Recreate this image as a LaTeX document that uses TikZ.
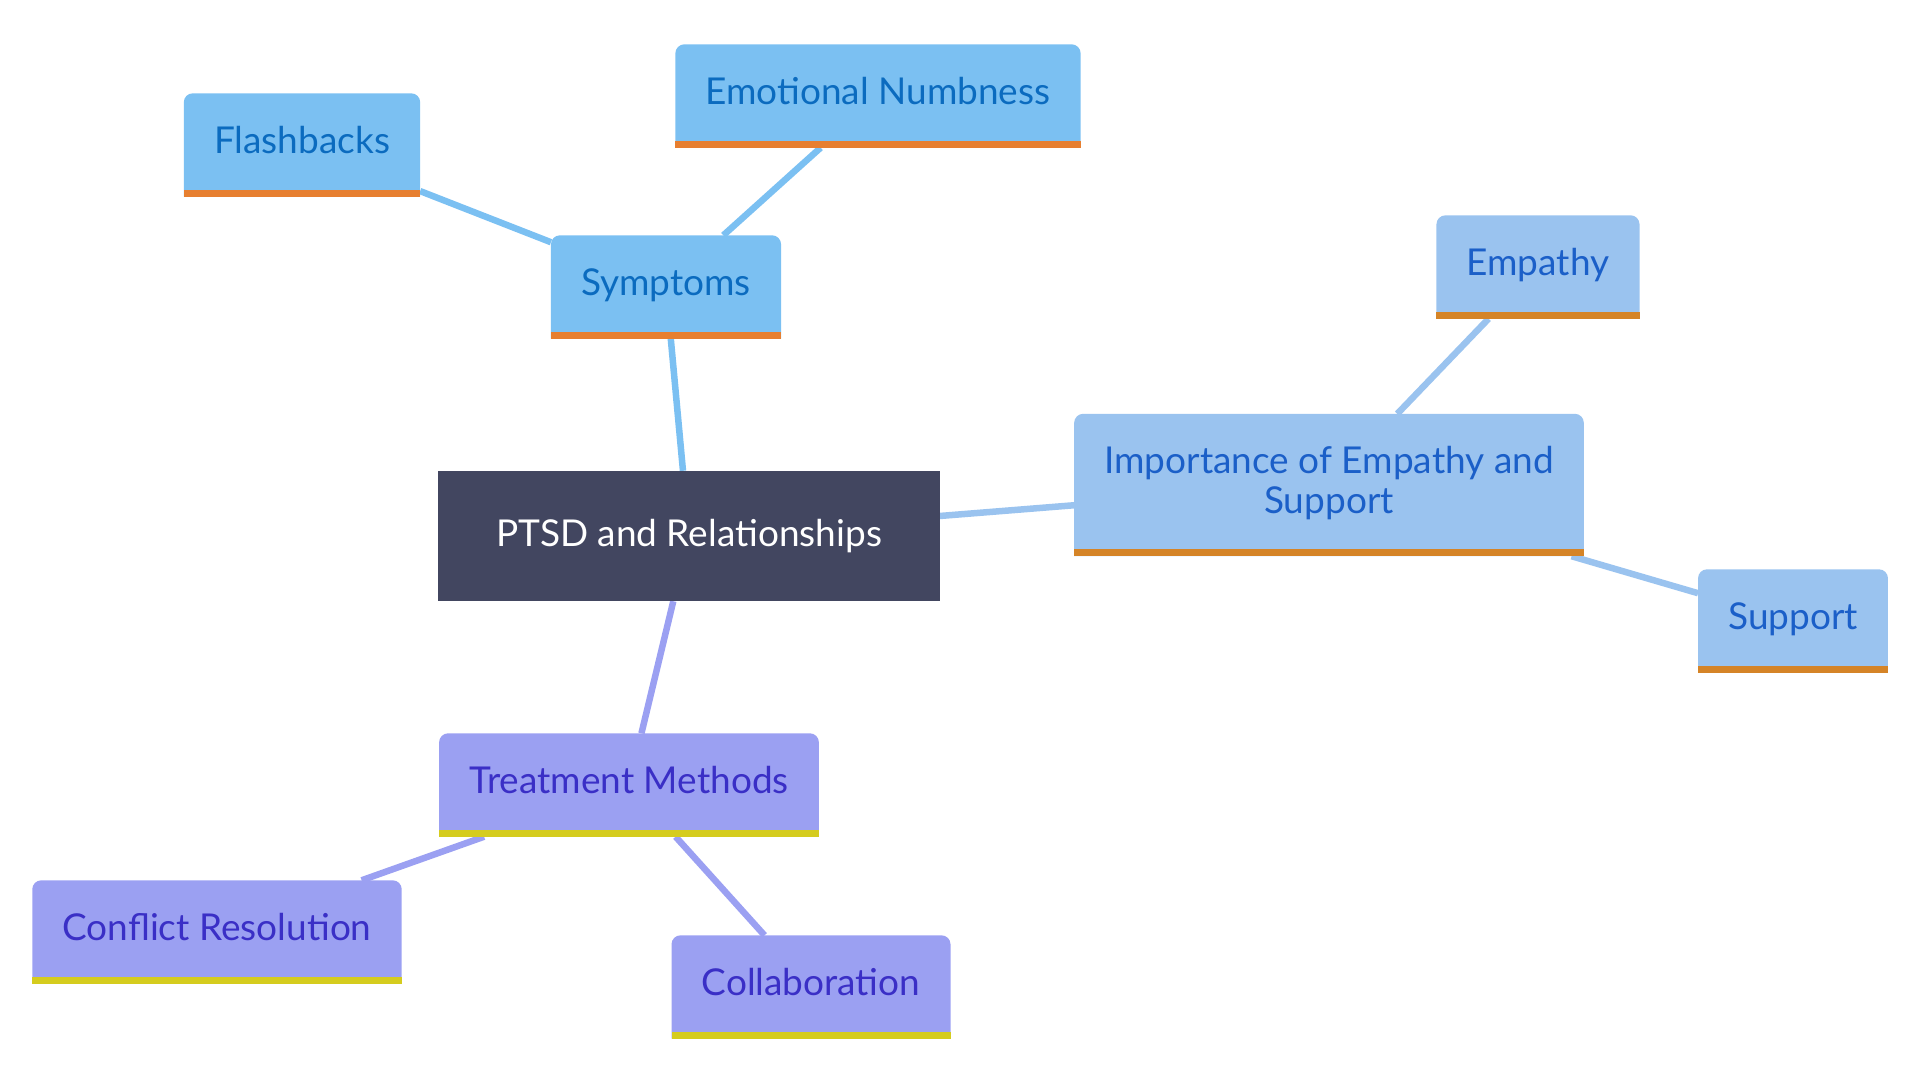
\documentclass[tikz,border=0pt]{standalone}
\usepackage{fontspec}
\setmainfont{Lato}
\usetikzlibrary{backgrounds}
\definecolor{rootfill}{HTML}{424660}
\definecolor{symfill}{HTML}{7BC0F2}
\definecolor{symtext}{HTML}{0B6BBF}
\definecolor{symbar}{HTML}{E77F30}
\definecolor{empfill}{HTML}{9AC3EF}
\definecolor{emptext}{HTML}{1B5FC8}
\definecolor{empbar}{HTML}{D58427}
\definecolor{trtfill}{HTML}{9BA0F2}
\definecolor{trttext}{HTML}{3A2FC6}
\definecolor{trtbar}{HTML}{D5CC1E}
\tikzset{
  topic/.style={font=\fontsize{37}{40}\selectfont,inner xsep=30,inner ysep=0,minimum height=103,align=center,text depth=10},
  rootnode/.style={topic,text=white,minimum width=501,minimum height=130,text depth=6},
  symnode/.style={topic,text=symtext},
  empnode/.style={topic,text=emptext},
  trtnode/.style={topic,text=trttext},
  link/.style={line width=6.5}
}
% box with round top and a coloured bar under it
\newcommand{\tabbox}[3]{%
  \fill[#2] (#1.south west) [rounded corners=9] -- (#1.north west) -- (#1.north east) [sharp corners] -- (#1.south east) -- cycle;
  \fill[#3] (#1.south west) rectangle ([yshift=7]#1.south east);
}
\begin{document}
\begin{tikzpicture}[x=1pt,y=-1pt]
    \useasboundingbox (0,0) rectangle (1920,1080);
    \node[rootnode] (PTSD) at (689,536) {PTSD and Relationships};
    \node[symnode] (Symp) at (666,287) {Symptoms};
    \node[symnode] (Flash) at (302,145) {Flashbacks};
    \node[symnode] (Numb) at (878,96) {Emotional Numbness};
    \node[empnode,minimum height=142] (Imp) at (1329,485) {Importance of Empathy and\\Support};
    \node[empnode] (Emp) at (1538,267) {Empathy};
    \node[empnode] (Sup) at (1793,621) {Support};
    \node[trtnode] (Treat) at (629,785) {Treatment Methods};
    \node[trtnode] (Confl) at (217,932) {Conflict Resolution};
    \node[trtnode] (Collab) at (811,987) {Collaboration};
    \begin{scope}[on background layer]
      \draw[link,symfill] (PTSD) -- (Symp) (Symp) -- (Flash) (Symp) -- (Numb);
      \draw[link,empfill] (PTSD) -- (Imp) (Imp) -- (Emp) (Imp) -- (Sup);
      \draw[link,trtfill] (PTSD) -- (Treat) (Treat) -- (Confl) (Treat) -- (Collab);
      \fill[rootfill] (PTSD.south west) rectangle (PTSD.north east);
      \foreach \n in {Symp,Flash,Numb} {\tabbox{\n}{symfill}{symbar}}
      \foreach \n in {Imp,Emp,Sup} {\tabbox{\n}{empfill}{empbar}}
      \foreach \n in {Treat,Confl,Collab} {\tabbox{\n}{trtfill}{trtbar}}
    \end{scope}
\end{tikzpicture}
\end{document}
